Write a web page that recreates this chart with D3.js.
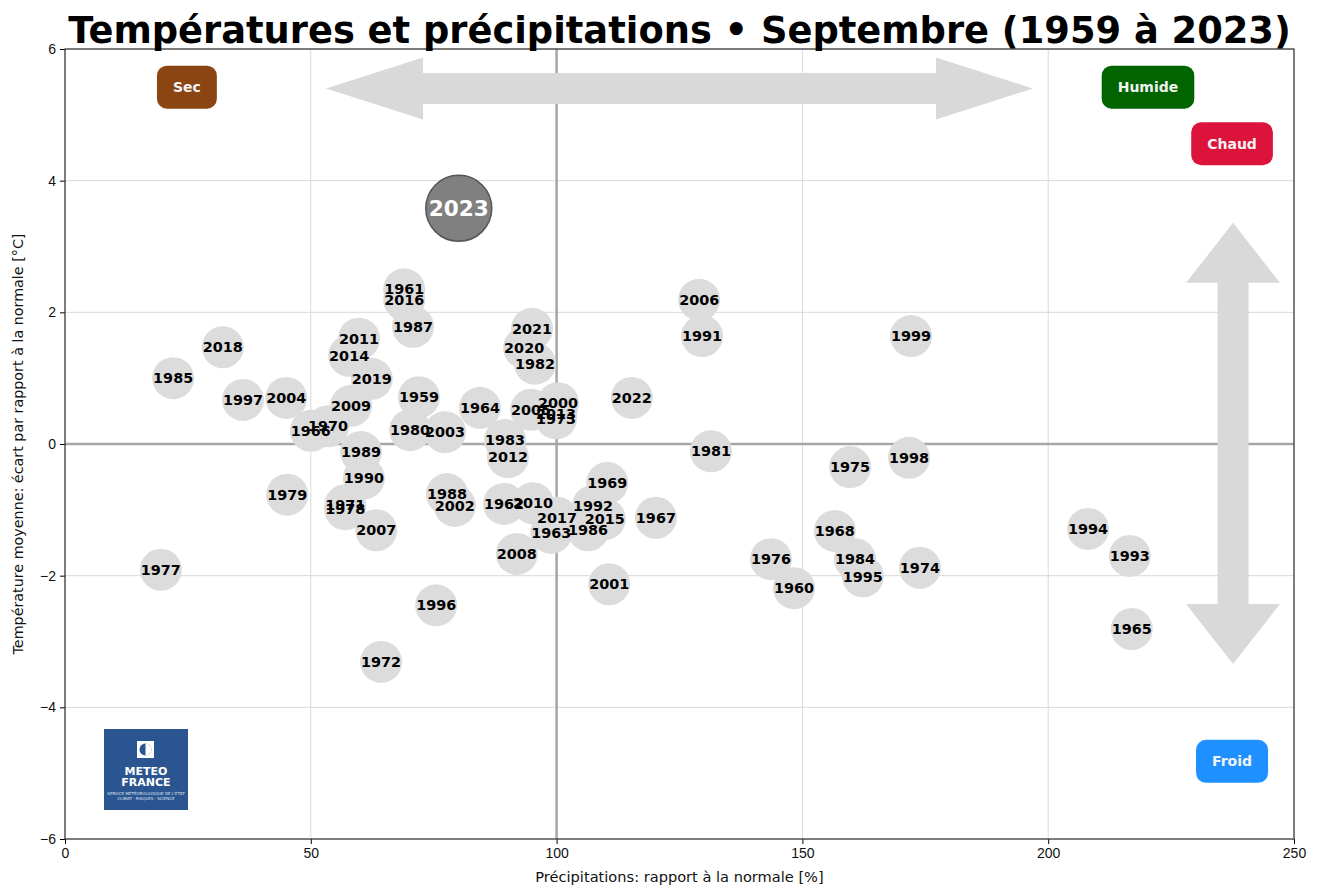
<!DOCTYPE html>
<html>
<head>
<meta charset="utf-8">
<script src="https://cdn.jsdelivr.net/npm/d3@7"></script>
<style>
  body { margin: 0; background: #fff; }
  svg { font-family: "DejaVu Sans", sans-serif; }
</style>
</head>
<body>
<script>
// Septembre : rapport des précipitations (%) et écart de température (°C)
var years = [1959, 1960, 1961, 1962, 1963, 1964, 1965, 1966, 1967, 1968,
             1969, 1970, 1971, 1972, 1973, 1974, 1975, 1976, 1977, 1978,
             1979, 1980, 1981, 1982, 1983, 1984, 1985, 1986, 1987, 1988,
             1989, 1990, 1991, 1992, 1993, 1994, 1995, 1996, 1997, 1998,
             1999, 2000, 2001, 2002, 2003, 2004, 2005, 2006, 2007, 2008,
             2009, 2010, 2011, 2012, 2013, 2014, 2015, 2016, 2017, 2018,
             2019, 2020, 2021, 2022, 2023];
var precip = [72.0, 148.3, 69.0, 89.3, 98.9, 84.4, 217.0, 50.0, 120.2, 156.6,
              110.3, 53.5, 57.0, 64.3, 99.9, 173.9, 159.7, 143.6, 19.5, 57.0,
              45.2, 70.2, 131.4, 95.6, 89.5, 160.7, 22.0, 106.4, 70.8, 77.7,
              60.2, 60.8, 129.6, 107.4, 216.6, 208.1, 162.3, 75.5, 36.2, 171.7,
              172.1, 100.3, 110.7, 79.3, 77.3, 45.0, 94.8, 129.0, 63.3, 91.9,
              58.2, 95.2, 59.8, 90.1, 99.9, 57.8, 109.8, 69.0, 100.1, 32.1,
              62.4, 93.4, 95.0, 115.3, 80.1];
var temp = [0.71, -2.19, 2.35, -0.91, -1.35, 0.55, -2.81, 0.20, -1.12, -1.32,
            -0.59, 0.27, -0.93, -3.31, 0.39, -1.88, -0.35, -1.75, -1.91, -0.99,
            -0.77, 0.21, -0.11, 1.22, 0.06, -1.75, 1.00, -1.31, 1.78, -0.76,
            -0.12, -0.52, 1.64, -0.94, -1.70, -1.29, -2.01, -2.45, 0.67, -0.21,
            1.64, 0.62, -2.13, -0.94, 0.18, 0.70, 0.52, 2.19, -1.31, -1.67,
            0.58, -0.90, 1.60, -0.20, 0.46, 1.34, -1.14, 2.19, -1.12, 1.47,
            0.99, 1.46, 1.75, 0.70, 3.58];
var currentYear = 2023;

var xTicks = [0, 50, 100, 150, 200, 250];
var yTicks = [-6, -4, -2, 0, 2, 4, 6];

// étiquettes de quadrant
var tagText = ["Sec", "Humide", "Chaud", "Froid"];
var tagX = [24.8, 220.3, 237.4, 237.4];
var tagY = [5.42, 5.42, 4.56, -4.82];
var tagColor = ["#8b4513", "#006400", "#dc143c", "#1e90ff"];

// flèches doubles : [x1, y1, x2, y2] en coordonnées de données
var arrows = [[53.1, 5.4, 196.9, 5.4], [237.6, 3.36, 237.6, -3.34]];

var W = 1319, H = 886;
var margin = {top: 49, right: 25, bottom: 47, left: 65};

var svg = d3.select("body").append("svg")
    .attr("width", W)
    .attr("height", H);

var x = d3.scaleLinear().domain([0, 250]).range([margin.left, W - margin.right]);
var y = d3.scaleLinear().domain([-6, 6]).range([H - margin.bottom, margin.top]);

// grille
svg.append("g").selectAll("line").data(xTicks).enter().append("line")
    .attr("x1", function(d) { return x(d); }).attr("x2", function(d) { return x(d); })
    .attr("y1", y(-6)).attr("y2", y(6))
    .attr("stroke", "#dadada").attr("stroke-width", 1);
svg.append("g").selectAll("line").data(yTicks).enter().append("line")
    .attr("y1", function(d) { return y(d); }).attr("y2", function(d) { return y(d); })
    .attr("x1", x(0)).attr("x2", x(250))
    .attr("stroke", "#dadada").attr("stroke-width", 1);

// lignes de référence
svg.append("line").attr("x1", x(100)).attr("x2", x(100)).attr("y1", y(-6)).attr("y2", y(6))
    .attr("stroke", "#a6a6a6").attr("stroke-width", 2.5);
svg.append("line").attr("x1", x(0)).attr("x2", x(250)).attr("y1", y(0)).attr("y2", y(0))
    .attr("stroke", "#a6a6a6").attr("stroke-width", 2.5);

// flèches
function arrowPath(a) {
  var x1 = x(a[0]), y1 = y(a[1]), x2 = x(a[2]), y2 = y(a[3]);
  var dx = x2 - x1, dy = y2 - y1, L = Math.sqrt(dx * dx + dy * dy);
  var ux = dx / L, uy = dy / L, nx = -uy, ny = ux;
  var hl = a[1] === a[3] ? 97 : 60, hw = a[1] === a[3] ? 31 : 47, sw = 15.5;
  var pts = [
    [0, 0], [hl, hw], [hl, sw], [L - hl, sw], [L - hl, hw], [L, 0],
    [L - hl, -hw], [L - hl, -sw], [hl, -sw], [hl, -hw]
  ];
  return "M" + pts.map(function(p) {
    return (x1 + ux * p[0] + nx * p[1]) + "," + (y1 + uy * p[0] + ny * p[1]);
  }).join("L") + "Z";
}
svg.append("g").selectAll("path").data(arrows).enter().append("path")
    .attr("d", arrowPath)
    .attr("fill", "#d9d9d9");

// points
var pts = years.map(function(d, i) { return {year: d, p: precip[i], t: temp[i]}; });
var others = pts.filter(function(d) { return d.year !== currentYear; });
var cur = pts.filter(function(d) { return d.year === currentYear; });

svg.append("g").selectAll("circle").data(others).enter().append("circle")
    .attr("cx", function(d) { return x(d.p); })
    .attr("cy", function(d) { return y(d.t); })
    .attr("r", 21)
    .attr("fill", "#dcdcdc");
svg.append("g").selectAll("text").data(others).enter().append("text")
    .attr("x", function(d) { return x(d.p); })
    .attr("y", function(d) { return y(d.t); })
    .attr("dy", "0.36em")
    .attr("text-anchor", "middle")
    .attr("font-size", 14.4)
    .attr("font-weight", "bold")
    .attr("fill", "#000")
    .text(function(d) { return d.year; });

svg.append("g").selectAll("circle").data(cur).enter().append("circle")
    .attr("cx", function(d) { return x(d.p); })
    .attr("cy", function(d) { return y(d.t); })
    .attr("r", 33)
    .attr("fill", "#808080")
    .attr("stroke", "#555")
    .attr("stroke-width", 1.5);
svg.append("g").selectAll("text").data(cur).enter().append("text")
    .attr("x", function(d) { return x(d.p); })
    .attr("y", function(d) { return y(d.t); })
    .attr("dy", "0.36em")
    .attr("text-anchor", "middle")
    .attr("font-size", 21.6)
    .attr("font-weight", "bold")
    .attr("fill", "#fff")
    .text(function(d) { return d.year; });

// étiquettes de quadrant
var tags = svg.append("g").selectAll("g").data(tagText).enter().append("g");
tags.append("text")
    .attr("x", function(d, i) { return x(tagX[i]); })
    .attr("y", function(d, i) { return y(tagY[i]); })
    .attr("dy", "0.36em")
    .attr("text-anchor", "middle")
    .attr("font-size", 14)
    .attr("font-weight", "bold")
    .attr("fill", "#f2f2f2")
    .text(function(d) { return d; })
    .each(function(d, i) {
      var b = this.getBBox();
      d3.select(this.parentNode).insert("rect", "text")
        .attr("x", b.x - 16).attr("y", y(tagY[i]) - 21.5)
        .attr("width", b.width + 32).attr("height", 43)
        .attr("rx", 10).attr("ry", 10)
        .attr("fill", tagColor[i]);
    });

// logo
var logo = svg.append("g").attr("transform", "translate(104,729)");
logo.append("rect").attr("width", 84).attr("height", 81).attr("fill", "#2b5591");
logo.append("rect").attr("x", 33).attr("y", 12).attr("width", 17).attr("height", 17)
    .attr("fill", "#fff");
logo.append("circle").attr("cx", 41.5).attr("cy", 20.5).attr("r", 6).attr("fill", "#2b5591");
logo.append("path").attr("d", "M41.5,14.5 A6,6 0 0 1 41.5,26.5 Z").attr("fill", "#fff");
logo.append("text").attr("x", 42).attr("y", 46).attr("text-anchor", "middle")
    .attr("font-size", 11).attr("font-weight", "bold").attr("fill", "#fff").text("METEO");
logo.append("text").attr("x", 42).attr("y", 57).attr("text-anchor", "middle")
    .attr("font-size", 11).attr("font-weight", "bold").attr("fill", "#fff").text("FRANCE");
logo.append("text").attr("x", 42).attr("y", 66).attr("text-anchor", "middle")
    .attr("font-size", 4).attr("fill", "#dfe6f0").text("SERVICE MÉTÉOROLOGIQUE DE L'ÉTAT");
logo.append("text").attr("x", 42).attr("y", 71).attr("text-anchor", "middle")
    .attr("font-size", 4).attr("fill", "#dfe6f0").text("CLIMAT · RISQUES · SCIENCE");

// axes
svg.append("g")
    .attr("transform", "translate(0," + y(-6) + ")")
    .call(d3.axisBottom(x).tickValues(xTicks).tickSize(5).tickPadding(4))
    .call(function(g) { g.selectAll("text").attr("font-size", 14).attr("fill", "#111"); });
svg.append("g")
    .attr("transform", "translate(" + x(0) + ",0)")
    .call(d3.axisLeft(y).tickValues(yTicks).tickSize(5).tickPadding(4)
      .tickFormat(function(d) { return d < 0 ? "\u2212" + Math.abs(d) : d; }))
    .call(function(g) { g.selectAll("text").attr("font-size", 14).attr("fill", "#111"); });

svg.selectAll(".domain").remove();
svg.append("rect")
    .attr("x", x(0)).attr("y", y(6))
    .attr("width", x(250) - x(0)).attr("height", y(-6) - y(6))
    .attr("fill", "none").attr("stroke", "#333").attr("stroke-width", 1.2);

// titres
svg.append("text")
    .attr("x", (x(0) + x(250)) / 2).attr("y", 43)
    .attr("text-anchor", "middle")
    .attr("font-size", 36.8).attr("font-weight", "bold")
    .text("Températures et précipitations • Septembre (1959 à 2023)");
svg.append("text")
    .attr("x", (x(0) + x(250)) / 2).attr("y", 882)
    .attr("text-anchor", "middle")
    .attr("font-size", 14.6)
    .attr("fill", "#111")
    .text("Précipitations: rapport à la normale [%]");
svg.append("text")
    .attr("transform", "translate(23," + y(0) + ") rotate(-90)")
    .attr("text-anchor", "middle")
    .attr("font-size", 14.3)
    .attr("fill", "#111")
    .text("Température moyenne: écart par rapport à la normale [°C]");
</script>
</body>
</html>
